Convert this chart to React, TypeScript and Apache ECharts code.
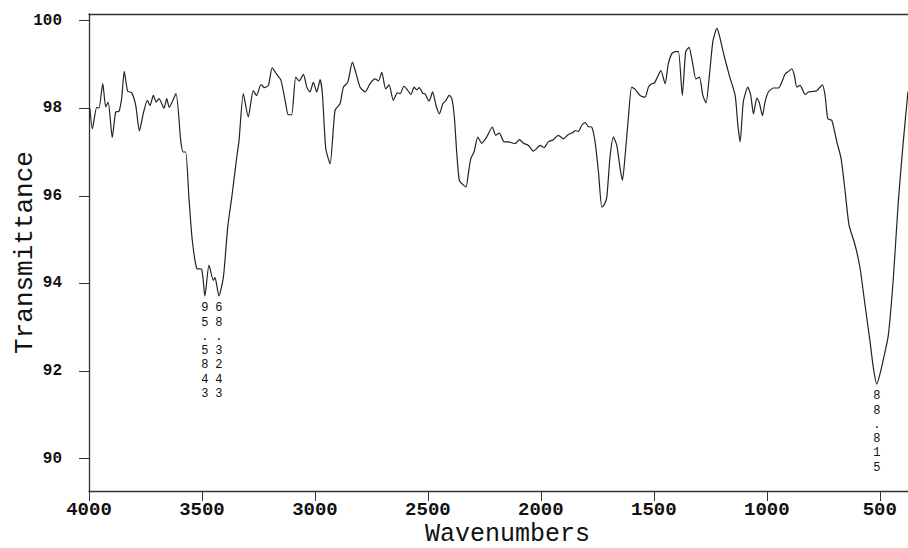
import React, { useEffect, useRef } from "react";
import * as echarts from "echarts";

const wavenumbers = [
  3996, 3985, 3966, 3956, 3939, 3926, 3915, 3897, 3882, 3867, 3855, 3844, 3829, 3811, 3793, 3777, 3760, 3742, 3730, 3715,
  3703, 3690, 3668, 3656, 3645, 3615, 3594, 3583, 3572, 3557, 3543, 3523, 3501, 3487, 3469, 3450, 3442, 3425, 3405, 3386,
  3368, 3346, 3336, 3317, 3295, 3273, 3258, 3239, 3224, 3206, 3189, 3169, 3150, 3132, 3118, 3103, 3085, 3070, 3051, 3036,
  3022, 3007, 2992, 2977, 2967, 2952, 2933, 2911, 2889, 2874, 2855, 2834, 2818, 2800, 2778, 2756, 2734, 2719, 2704, 2687,
  2672, 2653, 2635, 2623, 2606, 2591, 2575, 2561, 2549, 2538, 2523, 2513, 2495, 2479, 2464, 2449, 2434, 2420, 2406, 2394,
  2383, 2372, 2361, 2346, 2331, 2321, 2310, 2296, 2279, 2262, 2240, 2215, 2200, 2184, 2162, 2144, 2129, 2114, 2095, 2077,
  2055, 2033, 2018, 2004, 1986, 1967, 1945, 1923, 1900, 1878, 1856, 1849, 1834, 1819, 1804, 1790, 1775, 1760, 1745, 1730,
  1719, 1708, 1694, 1679, 1664, 1649, 1639, 1627, 1613, 1598, 1583, 1561, 1539, 1524, 1509, 1498, 1484, 1469, 1450, 1436,
  1421, 1406, 1391, 1374, 1359, 1344, 1329, 1314, 1298, 1283, 1269, 1254, 1239, 1221, 1210, 1189, 1166, 1140, 1128, 1118,
  1104, 1084, 1071, 1059, 1044, 1034, 1019, 1008, 993, 971, 949, 934, 919, 904, 889, 878, 867, 853, 830, 816,
  798, 779, 754, 742, 730, 712, 690, 671, 653, 636, 609, 587, 565, 543, 528, 513, 498, 480, 462, 440,
  418, 396, 375,
];

const transmittance = [
  97.99, 97.53, 98.02, 98.0, 98.56, 98.03, 98.14, 97.33, 97.91, 97.93, 98.25, 98.84, 98.39, 98.35, 98.06, 97.48, 97.87, 98.18, 98.06, 98.29,
  98.14, 98.22, 98.0, 98.22, 98.02, 98.33, 97.26, 97.0, 97.0, 95.9, 94.99, 94.34, 94.32, 93.71, 94.42, 94.07, 94.13, 93.71, 94.15, 95.29,
  95.97, 96.88, 97.26, 98.33, 97.8, 98.4, 98.29, 98.54, 98.47, 98.52, 98.92, 98.77, 98.63, 98.18, 97.85, 97.85, 98.71, 98.62, 98.77, 98.48,
  98.37, 98.59, 98.37, 98.65, 98.33, 97.08, 96.73, 97.95, 98.1, 98.48, 98.59, 99.05, 98.79, 98.48, 98.37, 98.56, 98.67, 98.62, 98.82, 98.44,
  98.53, 98.18, 98.35, 98.33, 98.5, 98.42, 98.31, 98.48, 98.42, 98.47, 98.34, 98.33, 98.16, 98.37, 98.06, 97.87, 98.1, 98.18, 98.29, 98.22,
  97.8, 96.96, 96.35, 96.26, 96.2, 96.51, 96.85, 97.0, 97.34, 97.2, 97.34, 97.57, 97.38, 97.43, 97.23, 97.23, 97.21, 97.19, 97.28, 97.2,
  97.15, 97.02, 97.08, 97.15, 97.1, 97.23, 97.28, 97.38, 97.3, 97.4, 97.45, 97.49, 97.47, 97.61, 97.67, 97.58, 97.57, 97.23, 96.54, 95.74,
  95.8, 95.97, 96.88, 97.34, 97.15, 96.62, 96.35, 96.92, 97.76, 98.48, 98.43, 98.29, 98.25, 98.48, 98.56, 98.57, 98.71, 98.86, 98.56, 99.01,
  99.24, 99.29, 99.29, 98.29, 99.29, 99.39, 99.05, 98.67, 98.71, 98.29, 98.12, 98.75, 99.51, 99.82, 99.66, 99.2, 98.75, 98.29, 97.61, 97.23,
  98.14, 98.48, 98.29, 97.87, 98.23, 98.14, 97.83, 98.14, 98.37, 98.46, 98.46, 98.59, 98.78, 98.84, 98.9, 98.75, 98.48, 98.52, 98.31, 98.37,
  98.38, 98.4, 98.53, 98.29, 97.76, 97.72, 97.23, 96.85, 96.09, 95.33, 94.87, 94.34, 93.5, 92.67, 92.06, 91.7, 91.95, 92.36, 92.82, 94.11,
  95.86, 97.23, 98.38,
];

const xTicks = [4000, 3500, 3000, 2500, 2000, 1500, 1000, 500];
const yTicks = [90, 92, 94, 96, 98, 100];

const peakWavenumbers = [3487, 3425, 513];
const peakLabels = ["95.5843", "68.3243", "88.815"];

const MONO = "'Liberation Mono', 'DejaVu Sans Mono', monospace";

export default function App() {
  const ref = useRef<HTMLDivElement>(null);

  useEffect(() => {
    if (!ref.current) return;
    const chart = echarts.init(ref.current, null, { renderer: "svg" });
    const data = wavenumbers.map((w, i) => [w, transmittance[i]]);
    const peaks = peakWavenumbers.map((w, i) => ({
      name: peakLabels[i],
      coord: [w, transmittance[wavenumbers.indexOf(w)]],
    }));
    chart.setOption({
      animation: false,
      backgroundColor: "#fff",
      grid: { left: 89, right: 0, top: 14, bottom: 57, containLabel: false, outerBoundsMode: "none" },
      xAxis: [
        {
          type: "value",
          inverse: true,
          min: 375,
          max: 4000,
          name: "Wavenumbers",
          nameLocation: "middle",
          nameGap: 31,
          nameMoveOverlap: false,
          nameTextStyle: { fontFamily: MONO, fontSize: 25, lineHeight: 24, color: "#111", padding: [0, 0, 0, 18] },
          axisLine: { show: true, onZero: false, lineStyle: { color: "#333", width: 1.3 } },
          axisTick: { show: true, length: 10, inside: false, customValues: xTicks, lineStyle: { color: "#333" } },
          axisLabel: {
            show: true,
            customValues: xTicks,
            formatter: (v: number) => String(v),
            margin: 10,
            fontFamily: MONO,
            fontSize: 19,
            lineHeight: 18,
            fontWeight: "bold",
            color: "#111",
          },
          splitLine: { show: false },
        },
        {
          type: "value",
          inverse: true,
          position: "top",
          min: 375,
          max: 4000,
          axisLine: { show: true, onZero: false, lineStyle: { color: "#333", width: 1.3 } },
          axisTick: { show: false },
          axisLabel: { show: false },
          splitLine: { show: false },
        },
      ],
      yAxis: {
        type: "value",
        min: 89.26,
        max: 100.15,
        name: "Transmittance",
        nameLocation: "middle",
        nameGap: 51,
        nameMoveOverlap: false,
        nameTextStyle: { fontFamily: MONO, fontSize: 26, color: "#111" },
        axisLine: { show: true, onZero: false, lineStyle: { color: "#333", width: 1.3 } },
        axisTick: { show: true, length: 10, inside: false, customValues: yTicks, lineStyle: { color: "#333" } },
        axisLabel: {
          show: true,
          customValues: yTicks,
          formatter: (v: number) => String(v),
          margin: 27,
          fontFamily: MONO,
          fontSize: 16,
          fontWeight: "bold",
          color: "#111",
        },
        splitLine: { show: false },
      },
      series: [
        {
          type: "line",
          data,
          xAxisIndex: 0,
          showSymbol: false,
          smooth: 0.2,
          lineStyle: { color: "#222", width: 1.2 },
          markPoint: {
            symbol: "circle",
            symbolSize: 0,
            data: peaks,
            label: {
              show: true,
              position: "bottom",
              distance: 5,
              formatter: (p: any) => String(p.name).split("").join("\n"),
              fontFamily: MONO,
              fontSize: 12,
              lineHeight: 14.3,
              color: "#111",
            },
          },
        },
      ],
    });
    return () => chart.dispose();
  }, []);

  return (
    <div
      ref={ref}
      style={{ position: "fixed", left: 0, top: 0, width: 908, height: 548, background: "#fff" }}
    />
  );
}
